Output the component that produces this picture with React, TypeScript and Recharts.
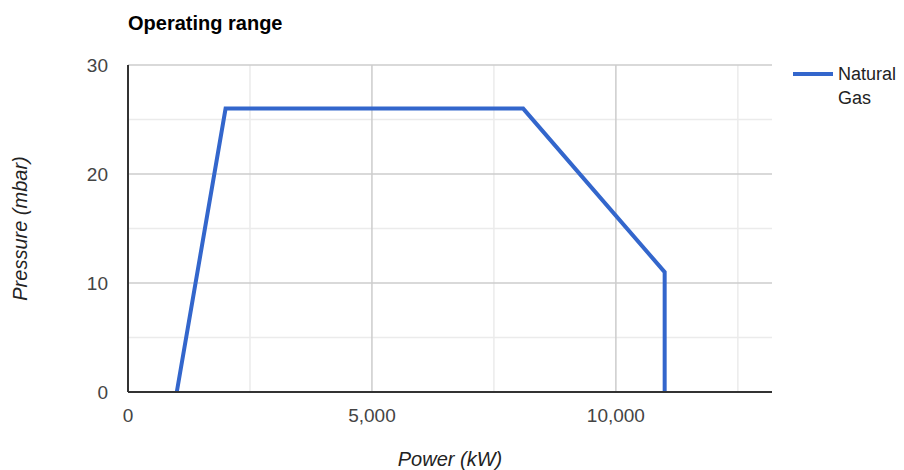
import React from 'react';
import { LineChart, Line, XAxis, YAxis, ReferenceLine, Label } from 'recharts';

const powerKw = [1000, 2000, 8100, 11000, 11000];
const pressureMbar = [0, 26, 26, 11, 0];

const xTicks = [0, 2500, 5000, 7500, 10000, 12500];
const xMajorGrid = [5000, 10000];
const xMinorGrid = [2500, 7500, 12500];
const yTicks = [0, 5, 10, 15, 20, 25, 30];
const yMajorGrid = [10, 20, 30];
const yMinorGrid = [5, 15, 25];

const seriesLabel = ['Natural', 'Gas'];
const lineColor = '#3366cc';
const font = '"Liberation Sans", Arial, sans-serif';

const data = powerKw.map((x, i) => ({ x, y: pressureMbar[i] }));

const LegendBox = () => (
  <div
    style={{
      position: 'absolute',
      left: 793,
      top: 62,
      display: 'flex',
      alignItems: 'flex-start',
      fontFamily: font,
      fontSize: 18,
      color: '#222',
    }}
  >
    <div style={{ width: 40, height: 4, background: lineColor, marginTop: 10, marginRight: 5 }} />
    <div style={{ lineHeight: '24px' }}>
      {seriesLabel[0]}
      <br />
      {seriesLabel[1]}
    </div>
  </div>
);

export default function App() {
  return (
    <div style={{ position: 'absolute', left: 0, top: 0, width: 904, height: 470, background: '#fff' }}>
      <div
        style={{
          position: 'absolute',
          left: 128,
          top: 12,
          fontFamily: font,
          fontSize: 20,
          fontWeight: 'bold',
          color: '#000',
        }}
      >
        Operating range
      </div>
      <LineChart width={904} height={470} data={data} margin={{ top: 65, right: 132, bottom: 0, left: 0 }}>
        {xMinorGrid.map((v) => (
          <ReferenceLine key={'xm' + v} x={v} stroke="#ebebeb" strokeWidth={1.5} />
        ))}
        {yMinorGrid.map((v) => (
          <ReferenceLine key={'ym' + v} y={v} stroke="#ebebeb" strokeWidth={1.5} />
        ))}
        {xMajorGrid.map((v) => (
          <ReferenceLine key={'xM' + v} x={v} stroke="#cccccc" strokeWidth={1.5} />
        ))}
        {yMajorGrid.map((v) => (
          <ReferenceLine key={'yM' + v} y={v} stroke="#cccccc" strokeWidth={1.5} />
        ))}
        <XAxis
          dataKey="x"
          type="number"
          domain={[0, 13200]}
          ticks={xTicks}
          interval={0}
          tickFormatter={(v: number) => (v % 5000 === 0 ? v.toLocaleString('en-US') : '')}
          tickLine={false}
          tickSize={0}
          tickMargin={17}
          axisLine={{ stroke: '#333', strokeWidth: 2 }}
          tick={{ fill: '#444', fontSize: 19, fontFamily: font }}
          height={78}
        >
          <Label
            value="Power (kW)"
            position="insideBottom"
            offset={4}
            style={{ fill: '#222', fontSize: 20, fontStyle: 'italic', fontFamily: font }}
          />
        </XAxis>
        <YAxis
          type="number"
          domain={[0, 30]}
          ticks={yTicks}
          interval={0}
          tickFormatter={(v: number) => (v % 10 === 0 ? String(v) : '')}
          tickLine={false}
          tickSize={0}
          tickMargin={20}
          axisLine={{ stroke: '#333', strokeWidth: 2 }}
          tick={{ fill: '#444', fontSize: 19, fontFamily: font }}
          width={128}
        >
          <Label
            value="Pressure (mbar)"
            angle={-90}
            position="insideLeft"
            offset={20}
            style={{ fill: '#222', fontSize: 20, fontStyle: 'italic', fontFamily: font, textAnchor: 'middle' }}
          />
        </YAxis>
        <Line
          name="Natural Gas"
          dataKey="y"
          type="linear"
          stroke={lineColor}
          strokeWidth={4}
          dot={false}
          activeDot={false}
          isAnimationActive={false}
        />
      </LineChart>
      <LegendBox />
    </div>
  );
}
